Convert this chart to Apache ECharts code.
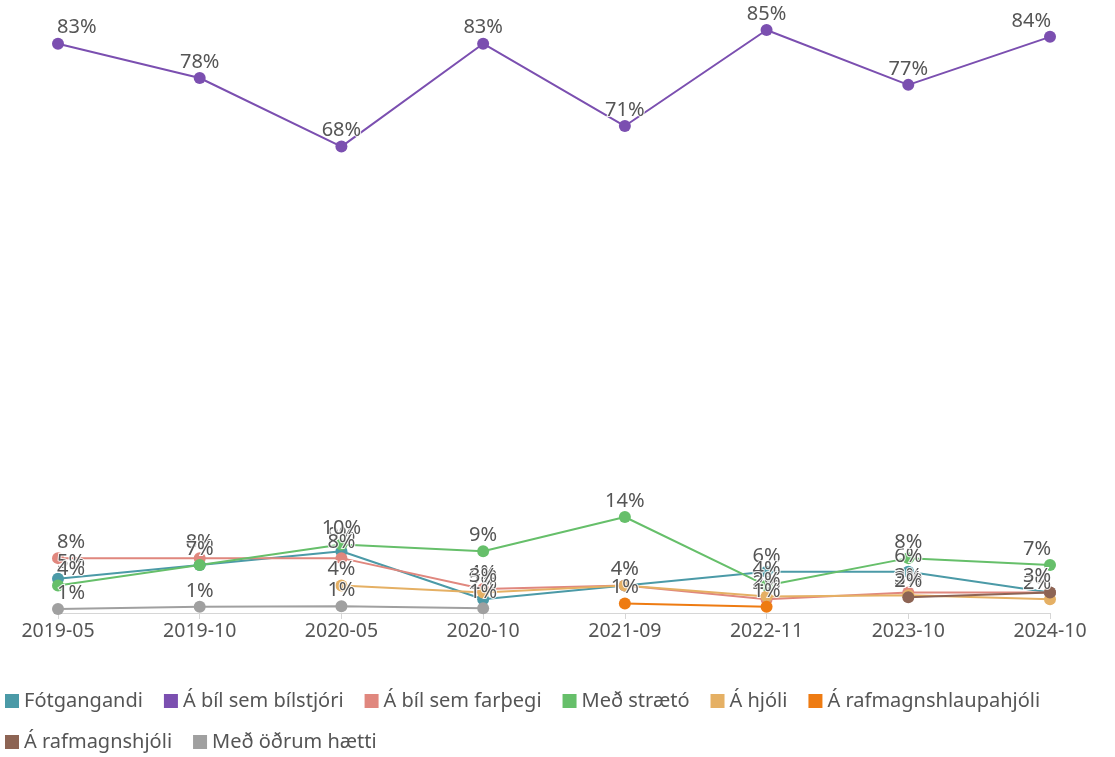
<!DOCTYPE html>
<html><head><meta charset="utf-8">
<script src="https://cdn.jsdelivr.net/npm/echarts@6/dist/echarts.min.js"></script>
<style>html,body{margin:0;padding:0;background:#fff}#c{width:1115px;height:757px}</style>
</head><body><div id="c"></div>
<script>
const categories = ['2019-05','2019-10','2020-05','2020-10','2021-09','2022-11','2023-10','2024-10'];
const seriesNames = ['Fótgangandi','Á bíl sem bílstjóri','Á bíl sem farþegi','Með strætó','Á hjóli','Á rafmagnshlaupahjóli','Á rafmagnshjóli','Með öðrum hætti'];
const fotgangandi = [5, 7, 9, 2, 4, 6, 6, 3];
const bilstjori = [83, 78, 68, 83, 71, 85, 77, 84];
const farthegi = [8, 8, 8, 3.5, 4, 2, 3, 3];
const straeto = [4, 7, 10, 9, 14, 4, 8, 7];
const hjoli = [null, null, 4, 3, 4, 2.4, 2.6, 2];
const hlaupahjoli = [null, null, null, null, 1.4, 0.9, null, null];
const rafhjoli = [null, null, null, null, null, null, 2.3, 3];
const odrum = [0.6, 0.9, 1, 0.7, null, null, null, null];
const colors = ['#4b9aa7','#7b4fb0','#e0877e','#66bf6a','#e5b064','#ee7b12','#8d6454','#a0a0a0'];
const allData = [fotgangandi, bilstjori, farthegi, straeto, hjoli, hlaupahjoli, rafhjoli, odrum];

const FONT = 'Noto Sans';
const last = categories.length - 1;
const series = allData.map((arr, si) => ({
  name: seriesNames[si],
  type: 'line',
  data: arr.map((v, i) => {
    if (v === null) return null;
    const d = { value: v };
    if (i === 0) d.label = { align: 'left', offset: [-1, 0] };
    if (i === last) d.label = { align: 'right', offset: [1, 0] };
    return d;
  }),
  color: colors[si],
  symbol: 'circle',
  symbolSize: 12,
  lineStyle: { width: 2 },
  connectNulls: false,
  label: {
    show: true, position: 'top', distance: 0,
    formatter: p => Math.round(p.value) + '%',
    color: '#555', fontSize: 20, fontFamily: FONT,
    textBorderColor: 'rgba(255,255,255,0.85)', textBorderWidth: 2
  },
  emphasis: { disabled: true },
  z: si === 1 ? 3 : 2
}));

const chart = echarts.init(document.getElementById('c'));
chart.setOption({
  animation: false,
  textStyle: { fontFamily: FONT },
  grid: { left: 58, right: 65, top: 30, bottom: 144 },
  xAxis: {
    type: 'category', data: categories, boundaryGap: false,
    axisLine: { lineStyle: { color: '#d6d6d6' } },
    axisTick: { show: true, alignWithLabel: true, length: 6, lineStyle: { color: '#d6d6d6' } },
    axisLabel: { color: '#555', fontSize: 19.5, margin: 8, fontFamily: FONT }
  },
  yAxis: { type: 'value', min: 0, max: 85, show: false },
  legend: {
    left: 0, top: 686, width: 1100,
    icon: 'rect', itemWidth: 14, itemHeight: 14, itemGap: 21,
    textStyle: { color: '#555', fontSize: 20, fontFamily: FONT },
    data: seriesNames
  },
  series
});
</script></body></html>
